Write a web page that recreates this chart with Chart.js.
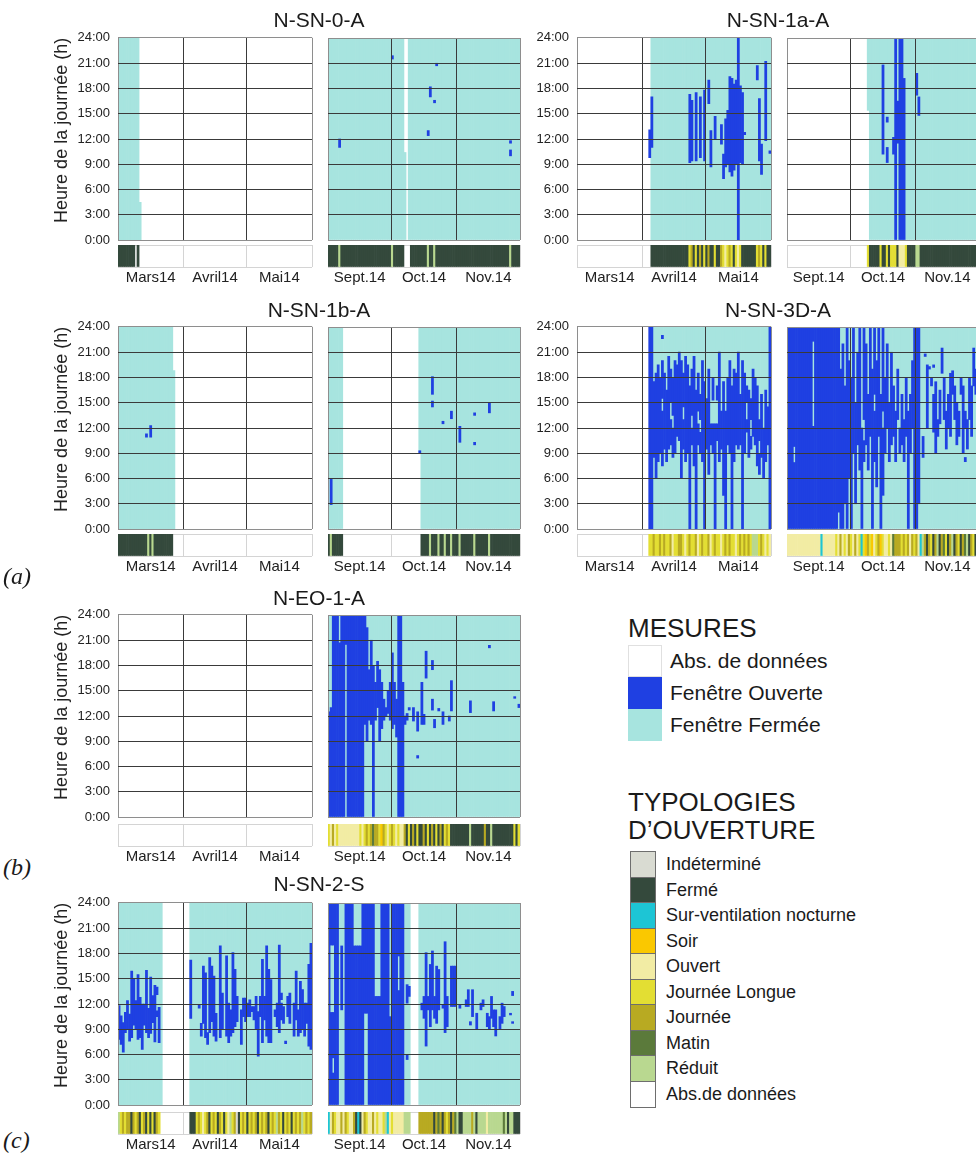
<!DOCTYPE html>
<html lang="fr">
<head>
<meta charset="utf-8">
<title>Typologies d'ouverture des fenêtres</title>
<script src="https://cdn.jsdelivr.net/npm/chart.js@4.4.1/dist/chart.umd.min.js"></script>
<style>
  html, body { margin: 0; padding: 0; background: #fff; }
  body { width: 976px; height: 1160px; position: relative; overflow: hidden;
         font-family: 'Liberation Sans', Arial, sans-serif; color: #1a1a1a; }
  canvas, .txt { position: absolute; }
  .txt { white-space: nowrap; }
  .title { font-size: 21px; line-height: 24px; text-align: center; width: 300px; }
  .tag { font-family: 'Liberation Serif', serif; font-style: italic; font-size: 24px; line-height: 28px; }
  .head { font-size: 26px; line-height: 28px; }
  .sw { position: absolute; box-sizing: border-box; }
</style>
</head>
<body>
<script>
// months / ticks
const springMonths = ['Mars14', 'Avril14', 'Mai14'];
const springDays = [31, 30, 31];
const autumnMonths = ['Sept.14', 'Oct.14', 'Nov.14'];
const autumnDays = [30, 31, 30];
const hourTicks = [0, 3, 6, 9, 12, 15, 18, 21, 24];

const measureLabels = ['Abs. de données', 'Fenêtre Ouverte', 'Fenêtre Fermée'];
const measureColors = ['#ffffff', '#1f40e2', '#a7e4df'];

const typologyCodes = ['I', 'F', 'SV', 'S', 'O', 'JL', 'J', 'M', 'R', '-'];
const typologyLabels = ['Indéterminé', 'Fermé', 'Sur-ventilation nocturne', 'Soir', 'Ouvert',
  'Journée Longue', 'Journée', 'Matin', 'Réduit', 'Abs.de données'];
const typologyColors = ['#d9dbd2', '#34493c', '#1dc5d5', '#fac800', '#f2eca4',
  '#e3de33', '#b8aa22', '#5b7a3b', '#b9d890', '#ffffff'];

// spans: [first day, last day, from hour, to hour] (day 0 = 1st of first month)
// typology: [code, number of days] runs

// N-SN-0-A
const sn0SpringClosed = [[0, 9, 0, 24], [10, 10, 0, 4.5]];
const sn0SpringOpen = [];
const sn0SpringType = [['F', 8], ['-', 1], ['F', 1]];
const sn0AutumnClosed = [[0, 35, 0, 24], [36, 36, 0, 10.4], [38, 90, 0, 24]];
const sn0AutumnOpen = [[5, 5, 11.0, 12.0], [30, 30, 21.5, 21.9], [47, 47, 12.4, 13.0], [48, 48, 17.0, 18.2],
  [50, 50, 16.3, 16.6], [51, 51, 20.7, 21.0], [86, 86, 10.0, 10.7], [86, 86, 11.5, 11.8]];
const sn0AutumnType = [['F', 5], ['R', 1], ['F', 24], ['R', 1], ['F', 5], ['-', 3], ['F', 8], ['R', 1],
  ['F', 2], ['R', 1], ['F', 35], ['R', 1], ['F', 4]];

// N-SN-1a-A
const sn1aSpringClosed = [[35, 91, 0, 24]];
const sn1aSpringOpen = [[34, 34, 9.8, 13.1], [35, 35, 11.0, 17.0], [53, 53, 9.2, 17.3], [54, 54, 9.4, 16.6],
  [56, 56, 9.4, 17.5], [58, 58, 9.8, 17.0], [60, 60, 9.4, 17.8], [62, 62, 16.2, 19.0], [63, 63, 8.7, 13.0],
  [65, 65, 12.0, 14.7], [68, 68, 11.4, 13.7], [69, 69, 7.3, 10.2], [70, 70, 8.7, 14.4], [71, 71, 9.0, 15.4],
  [72, 72, 8.1, 19.4], [73, 73, 7.6, 19.2], [74, 74, 8.3, 18.5], [75, 75, 9.0, 19.0], [76, 76, 0, 24],
  [77, 77, 9.2, 18.3], [78, 78, 9.0, 17.5], [79, 79, 12.5, 12.8], [85, 85, 19.0, 20.7], [86, 86, 9.4, 16.8],
  [87, 87, 7.8, 11.4], [89, 89, 11.8, 21.2], [91, 91, 10.3, 10.6]];
const sn1aSpringType = [['-', 35], ['F', 18], ['JL', 1], ['J', 1], ['F', 1], ['JL', 1], ['F', 1], ['J', 1],
  ['F', 1], ['JL', 1], ['F', 1], ['J', 1], ['F', 2], ['JL', 1], ['F', 2], ['J', 1], ['JL', 1], ['O', 1],
  ['JL', 1], ['J', 1], ['JL', 1], ['F', 1], ['JL', 1], ['O', 1], ['JL', 1], ['F', 7], ['JL', 1], ['J', 1],
  ['JL', 1], ['F', 1], ['JL', 1], ['F', 2]];
const sn1aAutumnClosed = [[38, 38, 15.4, 24], [39, 90, 0, 24]];
const sn1aAutumnOpen = [[45, 45, 10.2, 20.8], [47, 47, 14.0, 14.6], [47, 47, 9.2, 11.0], [50, 50, 10.2, 12.2],
  [51, 51, 0, 24], [52, 52, 11.5, 16.5], [53, 54, 0, 24], [55, 55, 0, 19.2], [61, 61, 17.2, 19.8],
  [62, 62, 14.8, 17.0]];
const sn1aAutumnType = [['-', 38], ['JL', 1], ['F', 5], ['JL', 1], ['F', 2], ['JL', 1], ['F', 1], ['JL', 3],
  ['F', 1], ['O', 3], ['JL', 1], ['F', 4], ['R', 2], ['F', 28]];

// N-SN-1b-A
const sn1bSpringClosed = [[0, 25, 0, 24], [26, 26, 0, 18.8]];
const sn1bSpringOpen = [[13, 13, 10.9, 11.3], [15, 15, 10.9, 12.3]];
const sn1bSpringType = [['F', 14], ['R', 1], ['F', 1], ['R', 1], ['F', 9]];
const sn1bAutumnClosed = [[0, 6, 0, 24], [43, 43, 9.1, 24], [44, 90, 0, 24]];
const sn1bAutumnOpen = [[1, 1, 2.9, 5.9], [43, 43, 9.0, 9.3], [49, 49, 16.0, 18.1], [49, 49, 14.5, 15.2],
  [54, 54, 12.5, 12.8], [58, 58, 13.1, 14.0], [62, 62, 10.3, 12.2], [69, 69, 13.5, 13.8], [69, 69, 10.0, 10.3],
  [76, 76, 13.8, 15.0]];
const sn1bAutumnType = [['F', 1], ['R', 1], ['F', 5], ['-', 37], ['F', 4], ['R', 1], ['F', 3], ['R', 1],
  ['F', 2], ['R', 1], ['F', 2], ['R', 1], ['F', 3], ['R', 1], ['F', 6], ['R', 1], ['F', 6], ['R', 1], ['F', 14]];

// N-SN-3D-A
const sn3dSpringClosed = [[35, 91, 0, 24]];
const sn3dSpringOpen = [[34, 35, 0, 24], [36, 36, 8.5, 17.5], [37, 37, 6.0, 18.5], [38, 38, 8.0, 19.5],
  [39, 39, 9.0, 18.0], [40, 40, 7.5, 14.0], [40, 40, 15.5, 20.0], [40, 40, 22.6, 23.0], [41, 41, 9.5, 18.5],
  [42, 42, 8.0, 16.5], [43, 43, 9.5, 20.5], [44, 44, 10.0, 13.0], [44, 44, 15.0, 19.0], [45, 45, 8.5, 12.0],
  [45, 45, 13.5, 18.0], [46, 46, 9.0, 20.0], [47, 47, 11.0, 19.5], [48, 48, 10.5, 21.0], [49, 49, 6.0, 20.0],
  [50, 50, 9.5, 13.0], [50, 50, 14.5, 18.5], [51, 51, 8.0, 20.5], [52, 52, 9.0, 19.5], [53, 53, 0, 17.0],
  [54, 54, 10.0, 12.0], [54, 54, 13.5, 19.0], [55, 55, 7.5, 20.5], [56, 56, 0, 16.5], [57, 57, 10.0, 12.5],
  [57, 57, 14.0, 18.5], [58, 58, 9.0, 11.5], [58, 58, 13.0, 16.0], [59, 59, 8.0, 20.0], [60, 60, 0, 17.5],
  [61, 61, 9.5, 15.5], [62, 62, 6.5, 19.0], [63, 63, 10.0, 12.5], [64, 64, 9.0, 12.5], [64, 64, 15.3, 18.0],
  [65, 65, 0, 12.5], [66, 66, 10.5, 12.5], [66, 66, 15.3, 17.0], [67, 67, 8.0, 21.0], [68, 68, 9.5, 14.0],
  [69, 69, 4.0, 17.5], [70, 70, 0, 14.0], [71, 71, 10.0, 18.0], [72, 72, 9.0, 20.0], [73, 73, 0, 17.0],
  [74, 74, 8.0, 19.0], [75, 75, 10.0, 18.5], [76, 76, 9.5, 21.0], [77, 77, 10.0, 16.0], [78, 78, 0, 20.0],
  [79, 79, 9.0, 18.5], [80, 80, 11.5, 13.0], [80, 80, 15.0, 17.0], [81, 81, 8.5, 16.5], [82, 82, 9.5, 11.0],
  [82, 82, 13.0, 15.5], [83, 83, 11.0, 19.0], [84, 84, 10.0, 18.0], [85, 85, 7.5, 17.0], [86, 86, 6.5, 9.0],
  [86, 86, 10.5, 13.0], [87, 87, 8.5, 16.0], [88, 88, 6.0, 12.0], [89, 89, 8.0, 16.5], [90, 90, 10.0, 14.5],
  [91, 91, 0, 24]];
const sn3dSpringType = [['-', 34], ['JL', 2], ['J', 1], ['JL', 2], ['J', 1], ['JL', 1], ['J', 1], ['JL', 2],
  ['J', 1], ['O', 1], ['JL', 2], ['J', 2], ['JL', 1], ['O', 1], ['JL', 1], ['J', 1], ['JL', 2], ['J', 1],
  ['O', 1], ['JL', 1], ['J', 1], ['JL', 2], ['J', 1], ['O', 1], ['JL', 1], ['J', 1], ['JL', 2], ['O', 1],
  ['JL', 1], ['J', 1], ['JL', 1], ['J', 1], ['JL', 2], ['O', 1], ['JL', 1], ['J', 1], ['JL', 1], ['J', 1],
  ['JL', 1], ['J', 1], ['JL', 1], ['R', 3], ['JL', 1], ['J', 1], ['JL', 1], ['O', 1], ['JL', 1], ['O', 1]];
const sn3dAutumnClosed = [[0, 90, 0, 24]];
const sn3dAutumnOpen = [[0, 2, 0, 24], [3, 3, 0, 7.9], [3, 3, 9.8, 24], [4, 11, 0, 24], [12, 12, 0, 12.2],
  [12, 12, 22.3, 24], [13, 23, 0, 24], [24, 24, 2, 24], [25, 25, 0, 19], [26, 26, 0, 22], [27, 27, 3, 17],
  [28, 28, 0, 24], [29, 29, 6, 20], [30, 30, 0, 18], [31, 31, 9, 24], [32, 32, 3, 15], [33, 33, 10, 21],
  [34, 34, 7, 24], [35, 35, 0, 12], [36, 36, 13, 24], [36, 36, 8, 10.5], [37, 37, 10, 22], [38, 38, 7, 16],
  [39, 39, 11, 24], [40, 40, 0, 19], [41, 41, 8, 14], [41, 41, 16, 24], [42, 42, 5, 20], [43, 43, 11, 24],
  [44, 44, 0, 16], [45, 45, 4, 12], [45, 45, 14, 24], [46, 46, 9, 18], [47, 47, 12, 22], [48, 48, 8, 15],
  [49, 49, 10, 21], [50, 50, 11, 17], [51, 51, 8, 14], [52, 52, 13, 19], [53, 53, 9, 12], [54, 54, 10, 16],
  [55, 55, 8, 13], [56, 56, 11, 18], [57, 57, 0, 14], [58, 58, 9, 16], [59, 59, 12, 20], [60, 61, 0, 24],
  [62, 62, 3, 24], [64, 64, 8.5, 11], [65, 65, 20.5, 20.8], [66, 66, 12, 19.5], [67, 67, 19, 19.3],
  [68, 68, 17, 18], [69, 69, 11.5, 16], [69, 69, 19.2, 19.5], [70, 70, 9, 17.5], [71, 71, 11, 13],
  [72, 72, 12.5, 16.5], [73, 73, 18.5, 21.5], [74, 74, 13, 18], [75, 75, 9.5, 14], [76, 76, 12, 16],
  [77, 77, 11, 18.5], [78, 78, 16, 18.8], [79, 79, 13, 17], [80, 80, 10, 15], [81, 81, 11, 14],
  [82, 82, 16, 18], [83, 83, 9, 17], [84, 84, 12, 14], [84, 84, 8, 8.5], [85, 85, 9.5, 13], [86, 86, 13, 18],
  [87, 87, 11, 17], [88, 88, 17, 21.5], [89, 89, 16, 19], [90, 90, 12, 14]];
const sn3dAutumnType = [['O', 16], ['SV', 1], ['O', 6], ['JL', 1], ['O', 1], ['J', 1], ['O', 1], ['JL', 1],
  ['O', 1], ['J', 1], ['JL', 1], ['O', 1], ['J', 1], ['O', 1], ['JL', 1], ['SV', 1], ['JL', 1], ['S', 1],
  ['J', 1], ['JL', 1], ['S', 1], ['O', 1], ['JL', 1], ['J', 1], ['S', 1], ['JL', 1], ['O', 2], ['JL', 1],
  ['O', 1], ['M', 1], ['J', 3], ['JL', 1], ['J', 1], ['JL', 1], ['J', 1], ['O', 1], ['J', 1], ['JL', 1],
  ['J', 1], ['O', 1], ['SV', 1], ['R', 1], ['J', 1], ['F', 1], ['J', 1], ['JL', 1], ['F', 1], ['J', 1],
  ['R', 1], ['F', 1], ['J', 1], ['M', 1], ['JL', 1], ['F', 1], ['J', 1], ['R', 1], ['F', 1], ['J', 1],
  ['JL', 1], ['F', 1], ['J', 1], ['M', 1], ['R', 1], ['F', 1], ['J', 1], ['JL', 1], ['F', 1], ['J', 1]];

// N-EO-1-A
const eo1SpringClosed = [];
const eo1SpringOpen = [];
const eo1SpringType = [];
const eo1AutumnClosed = [[0, 90, 0, 24]];
const eo1AutumnOpen = [[0, 0, 0, 12.5], [1, 1, 0, 13], [2, 4, 0, 24], [5, 5, 0, 20.7], [6, 7, 0, 24],
  [8, 8, 20.5, 24], [9, 16, 0, 24], [17, 17, 11, 24], [18, 18, 9, 22.5], [19, 19, 11.5, 17.5],
  [20, 20, 11, 21], [21, 21, 0, 18], [22, 22, 11.5, 16], [23, 23, 13, 18.5], [24, 24, 9, 17.5],
  [25, 25, 10.5, 16], [26, 26, 11.5, 14], [27, 27, 12, 13], [28, 28, 12.3, 15], [29, 29, 11.5, 16],
  [30, 30, 10.5, 19.5], [31, 31, 11, 16], [32, 32, 9.5, 14], [33, 34, 0, 24], [35, 35, 0, 16],
  [36, 36, 11, 12], [37, 37, 11.5, 12.3], [38, 38, 12.7, 13.0], [40, 40, 11.4, 13], [42, 42, 10.2, 12.5],
  [42, 42, 7.0, 7.3], [44, 44, 11, 16], [45, 45, 11, 12.2], [46, 46, 16.5, 19.7], [49, 49, 17.5, 18.6],
  [49, 49, 12.7, 14], [50, 50, 10.6, 11.6], [52, 52, 12.6, 12.9], [54, 54, 11, 12.5], [57, 57, 11.4, 12],
  [58, 58, 12.6, 16.2], [67, 67, 12.4, 13.8], [76, 76, 20.1, 20.4], [78, 78, 12.6, 13.7],
  [88, 88, 14.1, 14.3], [90, 90, 13, 13.4]];
const eo1AutumnType = [['JL', 1], ['O', 1], ['J', 1], ['O', 1], ['JL', 1], ['O', 10], ['JL', 1], ['O', 1],
  ['JL', 1], ['J', 1], ['JL', 1], ['J', 1], ['M', 1], ['J', 2], ['JL', 1], ['S', 1], ['J', 1], ['JL', 1],
  ['O', 1], ['JL', 1], ['J', 1], ['JL', 1], ['O', 1], ['JL', 1], ['O', 2], ['J', 1], ['F', 1], ['JL', 1],
  ['F', 1], ['J', 1], ['F', 1], ['JL', 1], ['F', 2], ['J', 1], ['F', 1], ['JL', 1], ['F', 1], ['J', 1],
  ['F', 1], ['JL', 1], ['F', 1], ['J', 1], ['F', 1], ['JL', 1], ['J', 1], ['JL', 1], ['F', 9], ['R', 1],
  ['F', 6], ['J', 1], ['F', 2], ['R', 1], ['F', 10], ['JL', 1], ['F', 1], ['JL', 1]];

// N-SN-2-S
const sn2SpringClosed = [[0, 20, 0, 24], [34, 91, 0, 24]];
const sn2SpringOpen = [[0, 0, 7.8, 11.8], [1, 1, 7.2, 10.6], [2, 2, 6.3, 9.8], [3, 3, 8.6, 11.0],
  [4, 4, 9.0, 12.4], [5, 5, 7.6, 10.8], [6, 6, 8.0, 15.9], [7, 7, 9.5, 15.0], [8, 8, 9.0, 12.4],
  [9, 9, 7.8, 15.5], [10, 10, 8.0, 12.8], [11, 11, 6.6, 12.0], [12, 12, 9.5, 12.0], [13, 13, 8.6, 16.0],
  [14, 14, 8.0, 11.5], [15, 15, 8.5, 15.2], [16, 16, 9.8, 13.0], [17, 17, 7.5, 14.2], [18, 18, 13.1, 14.0],
  [18, 18, 10.5, 11.2], [19, 19, 7.4, 11.6],
  [34, 34, 10.3, 17.2], [38, 38, 11.5, 11.9], [39, 39, 8.2, 9.7], [40, 40, 9.7, 16.5], [41, 41, 8.0, 15.7],
  [42, 42, 7.2, 8.6], [43, 43, 8.6, 17.5], [44, 44, 9.9, 16.5], [45, 45, 8.2, 15.3], [46, 46, 7.6, 10.9],
  [48, 48, 8.0, 18.9], [49, 49, 9.0, 13.3], [51, 51, 8.2, 17.7], [52, 52, 7.4, 12.1], [53, 53, 8.2, 11.3],
  [54, 54, 8.6, 18.1], [55, 55, 9.3, 16.1], [56, 56, 9.9, 12.9], [58, 58, 7.2, 11.3], [59, 59, 10.5, 12.7],
  [60, 60, 9.9, 12.7], [61, 61, 10.5, 12.1], [62, 62, 10.5, 12.5], [63, 63, 11.1, 11.7], [64, 64, 10.1, 11.7],
  [65, 65, 9.0, 12.9], [66, 66, 5.8, 11.1], [67, 67, 10.5, 12.9], [68, 68, 7.4, 17.3], [69, 69, 10.1, 12.9],
  [70, 70, 8.2, 18.9], [71, 71, 7.4, 16.1], [72, 72, 7.4, 14.9], [74, 74, 10.5, 11.3], [75, 75, 9.3, 12.1],
  [76, 76, 8.6, 19.0], [77, 77, 10.1, 12.1], [77, 77, 12.5, 13.3], [78, 78, 9.7, 11.7], [79, 79, 7.3, 7.6],
  [80, 80, 10.5, 12.9], [81, 81, 9.7, 13.3], [83, 83, 8.2, 12.1], [84, 84, 10.1, 15.9], [85, 85, 8.2, 11.3],
  [86, 86, 8.6, 14.7], [87, 87, 9.0, 13.7], [88, 88, 8.2, 12.1], [89, 89, 9.7, 12.1], [90, 90, 7.0, 16.7],
  [91, 91, 6.6, 19.2]];
const sn2SpringType = [['R', 1], ['JL', 1], ['J', 1], ['JL', 1], ['J', 2], ['F', 1], ['J', 1], ['JL', 1],
  ['J', 1], ['F', 1], ['JL', 1], ['J', 1], ['F', 1], ['JL', 1], ['F', 1], ['JL', 1], ['F', 1], ['J', 1],
  ['JL', 1], ['-', 14], ['F', 3], ['JL', 1], ['J', 1], ['JL', 1], ['O', 1], ['JL', 1], ['J', 1], ['F', 1],
  ['JL', 1], ['J', 1], ['JL', 1], ['F', 1], ['J', 1], ['JL', 1], ['F', 1], ['JL', 1], ['O', 1], ['R', 1],
  ['JL', 1], ['J', 1], ['I', 1], ['F', 1], ['JL', 1], ['J', 1], ['JL', 1], ['F', 1], ['JL', 1], ['J', 1],
  ['JL', 1], ['J', 1], ['F', 1], ['JL', 1], ['J', 1], ['JL', 1], ['J', 1], ['F', 1], ['JL', 1], ['J', 1],
  ['JL', 1], ['R', 1], ['J', 1], ['JL', 1], ['F', 1], ['JL', 1], ['J', 1], ['JL', 1], ['F', 1], ['JL', 1],
  ['J', 1], ['JL', 1], ['J', 1], ['R', 1], ['JL', 1], ['J', 1], ['JL', 1], ['J', 1]];
const sn2AutumnClosed = [[0, 38, 0, 24], [43, 90, 0, 24]];
const sn2AutumnOpen = [[0, 0, 0, 24], [1, 1, 0, 11], [1, 1, 19, 24], [2, 2, 0, 3.8], [2, 2, 5.6, 11],
  [2, 2, 19, 24], [3, 4, 0, 24], [6, 6, 11.3, 18.9], [8, 11, 0, 24], [12, 15, 0, 18.9], [16, 16, 0, 24],
  [17, 18, 10.9, 24], [19, 21, 0, 24], [22, 24, 0, 12.9], [25, 28, 0, 24], [29, 29, 0, 10.5],
  [30, 32, 0, 24], [33, 33, 0, 13.6], [33, 33, 17.7, 24], [34, 35, 0, 24], [37, 37, 12.1, 14.3],
  [37, 37, 5.4, 6.0], [38, 38, 12.9, 14.1],
  [44, 44, 11.3, 12.1], [45, 45, 10.3, 12.9], [46, 46, 7.0, 18.1], [47, 47, 11.3, 12.9], [48, 48, 9.3, 16.7],
  [49, 49, 11.3, 18.3], [50, 50, 10.3, 12.9], [51, 51, 9.7, 16.5], [52, 52, 11.3, 16.1], [54, 54, 11.5, 11.9],
  [55, 55, 8.6, 19.4], [56, 56, 9.3, 12.9], [58, 60, 11.7, 16.5], [62, 62, 11.5, 11.9], [65, 65, 11.7, 12.5],
  [66, 66, 11.7, 13.7], [67, 67, 9.5, 9.9], [68, 68, 10.5, 13.7], [70, 70, 9.0, 10.9], [72, 72, 11.3, 12.1],
  [73, 73, 11.7, 12.5], [75, 75, 9.3, 10.9], [76, 76, 9.0, 10.5], [77, 77, 10.3, 12.9], [78, 78, 9.3, 11.3],
  [79, 79, 8.2, 11.3], [81, 81, 9.0, 10.5], [82, 82, 9.7, 12.1], [83, 83, 10.5, 11.7], [86, 86, 10.7, 10.9],
  [87, 87, 13.0, 13.5], [87, 87, 9.7, 9.9]];
const sn2AutumnType = [['SV', 1], ['O', 1], ['J', 1], ['JL', 1], ['O', 2], ['J', 1], ['O', 1], ['J', 1],
  ['JL', 1], ['O', 2], ['J', 1], ['F', 1], ['SV', 1], ['F', 1], ['O', 1], ['J', 1], ['JL', 1], ['O', 2],
  ['J', 1], ['O', 1], ['JL', 1], ['O', 2], ['JL', 1], ['R', 1], ['SV', 1], ['O', 1], ['JL', 1], ['O', 5],
  ['R', 3], ['-', 4], ['J', 7], ['F', 1], ['J', 1], ['M', 1], ['J', 1], ['F', 1], ['J', 1], ['JL', 1],
  ['J', 1], ['F', 1], ['J', 1], ['M', 1], ['R', 1], ['F', 2], ['R', 4], ['J', 1], ['R', 1], ['F', 1],
  ['R', 4], ['O', 1], ['R', 7], ['M', 1], ['R', 1], ['F', 1], ['R', 2], ['F', 3]];

// layout
const PLOT_H = 202;
const STRIP_H = 22;
const SPRING_W = 194;
const AUTUMN_W = 192;
const columns = [{ spring: 118, autumn: 328 }, { spring: 577, autumn: 787 }];

const panels = [
  { name: 'N-SN-0-A', col: 0, top: 38, gap: 5, yTitle: true, titleY: 8,
    spring: [sn0SpringClosed, sn0SpringOpen, sn0SpringType], autumn: [sn0AutumnClosed, sn0AutumnOpen, sn0AutumnType] },
  { name: 'N-SN-1a-A', col: 1, top: 38, gap: 5, yTitle: false, titleY: 8,
    spring: [sn1aSpringClosed, sn1aSpringOpen, sn1aSpringType], autumn: [sn1aAutumnClosed, sn1aAutumnOpen, sn1aAutumnType] },
  { name: 'N-SN-1b-A', col: 0, top: 327, gap: 5, yTitle: true, titleY: 298,
    spring: [sn1bSpringClosed, sn1bSpringOpen, sn1bSpringType], autumn: [sn1bAutumnClosed, sn1bAutumnOpen, sn1bAutumnType] },
  { name: 'N-SN-3D-A', col: 1, top: 327, gap: 5, yTitle: false, titleY: 298,
    spring: [sn3dSpringClosed, sn3dSpringOpen, sn3dSpringType], autumn: [sn3dAutumnClosed, sn3dAutumnOpen, sn3dAutumnType] },
  { name: 'N-EO-1-A', col: 0, top: 615, gap: 7, yTitle: true, titleY: 586,
    spring: [eo1SpringClosed, eo1SpringOpen, eo1SpringType], autumn: [eo1AutumnClosed, eo1AutumnOpen, eo1AutumnType] },
  { name: 'N-SN-2-S', col: 0, top: 903, gap: 7, yTitle: true, titleY: 872,
    spring: [sn2SpringClosed, sn2SpringOpen, sn2SpringType], autumn: [sn2AutumnClosed, sn2AutumnOpen, sn2AutumnType] }
];

function addCanvas(x, y, w, h) {
  const cv = document.createElement('canvas');
  cv.width = w;
  cv.height = h;
  cv.style.left = x + 'px';
  cv.style.top = y + 'px';
  cv.style.width = w + 'px';
  cv.style.height = h + 'px';
  document.body.appendChild(cv);
  return cv;
}

function addText(str, x, y, cls, extra) {
  const el = document.createElement('div');
  el.className = 'txt ' + cls;
  el.textContent = str;
  el.style.left = x + 'px';
  el.style.top = y + 'px';
  if (extra) Object.assign(el.style, extra);
  document.body.appendChild(el);
  return el;
}

function addSwatch(x, y, w, h, color, border) {
  const el = document.createElement('div');
  el.className = 'sw';
  el.style.cssText = `left:${x}px;top:${y}px;width:${w}px;height:${h}px;background:${color};` +
    (border ? `border:1px solid ${border};` : '');
  document.body.appendChild(el);
}

function edgesOf(days) {
  const e = [0];
  days.forEach(n => e.push(e[e.length - 1] + n));
  return e;
}

function spansToBars(spans) {
  const bars = [];
  spans.forEach(([d0, d1, h0, h1]) => {
    for (let d = d0; d <= d1; d++) bars.push({ x: d + 0.5, y: [h0, h1] });
  });
  return bars;
}

function runsToDays(runs) {
  const out = [];
  let d = 0;
  runs.forEach(([code, n]) => {
    for (let i = 0; i < n; i++, d++) {
      if (code !== '-') out.push({ x: d + 0.5, y: [0, 1], code: code });
    }
  });
  return out;
}

const baseOptions = () => ({
  responsive: false,
  maintainAspectRatio: false,
  animation: false,
  devicePixelRatio: 1,
  events: [],
  plugins: { legend: { display: false }, tooltip: { enabled: false } }
});

// grid line colour: light frame, dark inner lines
const frameColor = (lo, hi, inner, frame) => c =>
  (c.tick && (c.tick.value === lo || c.tick.value === hi)) ? frame : inner;

// make the chart area land exactly on the wanted box
function placeChart(chart, cv, left, top, w, h) {
  const a = chart.chartArea;
  const dw = Math.round(w - (a.right - a.left));
  const dh = Math.round(h - (a.bottom - a.top));
  if (dw || dh) chart.resize(cv.width + dw, cv.height + dh);
  const b = chart.chartArea;
  cv.style.left = Math.round(left - b.left) + 'px';
  cv.style.top = Math.round(top - b.top) + 'px';
}

// yMode: 0 = no labels, 1 = hour labels, 2 = hour labels + axis title
function plotChart(left, top, width, days, closed, open, yMode) {
  const edges = edgesOf(days);
  const total = edges[edges.length - 1];
  const axisW = yMode === 2 ? 70 : (yMode === 1 ? 50 : 0);
  const padL = yMode ? 0 : 2;
  const cv = addCanvas(left - axisW - padL, top - 10, width + axisW + padL + 2, PLOT_H + 20);
  const opts = baseOptions();
  opts.layout = { padding: { top: 10, bottom: 10, left: padL, right: 2 } };
  opts.scales = {
    x: {
      type: 'linear', min: 0, max: total, offset: false,
      afterBuildTicks: s => { s.ticks = edges.map(v => ({ value: v })); },
      afterFit: s => { s.height = 0; },
      ticks: { display: false },
      grid: { z: 1, offset: false, drawTicks: false, color: frameColor(0, total, '#3a3a3a', '#8e8e8e') },
      border: { display: false }
    },
    y: {
      min: 0, max: 24,
      afterBuildTicks: s => { s.ticks = hourTicks.map(v => ({ value: v })); },
      afterFit: s => { s.width = axisW; },
      ticks: { display: yMode > 0, padding: 8, color: '#222', font: { size: 13 }, callback: v => v + ':00' },
      grid: { z: 1, offset: false, drawTicks: false, color: frameColor(0, 24, '#3a3a3a', '#8e8e8e') },
      border: { display: false },
      title: { display: yMode === 2, text: 'Heure de la journée (h)', color: '#222', align: 'end',
        font: { size: 18 }, padding: { top: 3, bottom: 0 } }
    }
  };
  const chart = new Chart(cv, {
    type: 'bar',
    data: {
      datasets: [
        { data: spansToBars(open), backgroundColor: measureColors[1], grouped: false,
          categoryPercentage: 1, barPercentage: 1 },
        { data: spansToBars(closed), backgroundColor: measureColors[2], grouped: false,
          categoryPercentage: 1, barPercentage: 1 }
      ]
    },
    options: opts
  });
  placeChart(chart, cv, left, top, width, PLOT_H);
}

function stripChart(left, top, width, days, months, runs) {
  const edges = edgesOf(days);
  const total = edges[edges.length - 1];
  const mids = days.map((n, i) => edges[i] + n / 2);
  const cv = addCanvas(left - 2, top, width + 4, STRIP_H + 26);
  const opts = baseOptions();
  opts.layout = { padding: { top: 1, bottom: 0, left: 2, right: 2 } };
  opts.scales = {
    x: {
      type: 'linear', min: 0, max: total, offset: false,
      afterBuildTicks: s => {
        s.ticks = edges.concat(mids).sort((a, b) => a - b).map(v => ({ value: v }));
      },
      afterFit: s => { s.height = 26; },
      ticks: { autoSkip: false, maxRotation: 0, minRotation: 0, padding: 2, color: '#222',
        font: { size: 15 },
        callback: v => { const i = mids.indexOf(v); return i < 0 ? '' : months[i]; } },
      grid: { offset: false, drawTicks: false,
        color: c => (c.tick && edges.includes(c.tick.value)) ? '#d4d4d4' : 'rgba(0,0,0,0)' },
      border: { display: false }
    },
    y: {
      min: 0, max: 1,
      afterBuildTicks: s => { s.ticks = [{ value: 0 }, { value: 1 }]; },
      afterFit: s => { s.width = 0; },
      ticks: { display: false },
      grid: { offset: false, drawTicks: false, color: '#d4d4d4' },
      border: { display: false }
    }
  };
  const chart = new Chart(cv, {
    type: 'bar',
    data: {
      datasets: [{
        data: runsToDays(runs),
        backgroundColor: c => c.raw ? typologyColors[typologyCodes.indexOf(c.raw.code)] : '#ffffff',
        grouped: false, categoryPercentage: 1, barPercentage: 1
      }]
    },
    options: opts
  });
  placeChart(chart, cv, left, top, width, STRIP_H);
}

panels.forEach(p => {
  const col = columns[p.col];
  const stripTop = p.top + PLOT_H + p.gap;
  plotChart(col.spring, p.top, SPRING_W, springDays, p.spring[0], p.spring[1], p.yTitle ? 2 : 1);
  plotChart(col.autumn, p.top, AUTUMN_W, autumnDays, p.autumn[0], p.autumn[1], 0);
  stripChart(col.spring, stripTop, SPRING_W, springDays, springMonths, p.spring[2]);
  stripChart(col.autumn, stripTop, AUTUMN_W, autumnDays, autumnMonths, p.autumn[2]);
  const center = (col.spring + col.autumn + AUTUMN_W) / 2;
  addText(p.name, center - 150, p.titleY, 'title');
});

// panel tags
addText('(a)', 3, 562, 'tag');
addText('(b)', 3, 853, 'tag');
addText('(c)', 3, 1126, 'tag');

// legend: measures
addText('MESURES', 628, 614, 'head');
measureLabels.forEach((lab, i) => {
  addSwatch(628, 645 + 32 * i, 34, 32, measureColors[i], i === 0 ? '#e0e0e0' : null);
  addText(lab, 670, 645 + 32 * i, '', { fontSize: '21px', lineHeight: '32px' });
});

// legend: typologies
addText('TYPOLOGIES', 628, 788, 'head');
addText('D\u2019OUVERTURE', 628, 816, 'head');
typologyLabels.forEach((lab, i) => {
  const y = Math.round(851 + 25.5 * i);
  addSwatch(630, y, 26, 27, typologyColors[i], '#6e6e6e');
  addText(lab, 666, y, '', { fontSize: '18px', lineHeight: '26px' });
});
</script>
</body>
</html>
